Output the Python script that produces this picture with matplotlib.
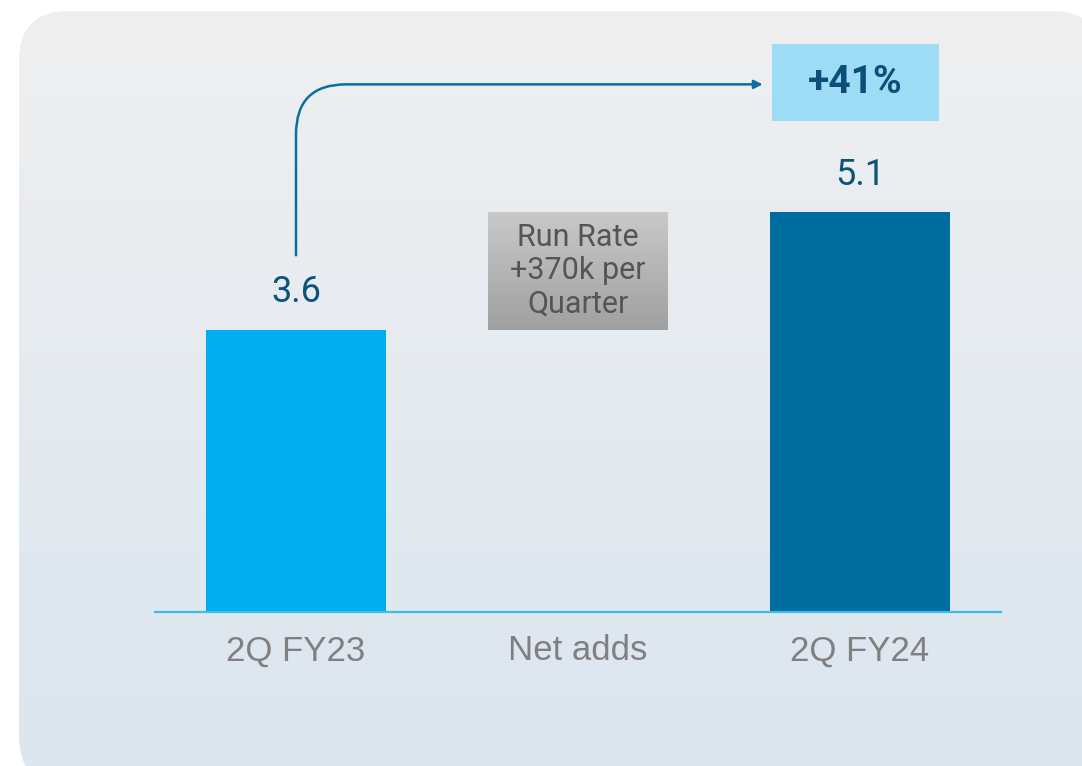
import numpy as np
import matplotlib
matplotlib.use("Agg")
import matplotlib.pyplot as plt
from matplotlib.patches import FancyBboxPatch, Rectangle
from matplotlib.colors import LinearSegmentedColormap

# ---------------- data ----------------
categories = ["2Q FY23", "Net adds", "2Q FY24"]
start_value = 3.6
end_value = 5.1
value_labels = ["3.6", "5.1"]
growth_label = "+41%"
run_rate_text = "Run Rate\n+370k per\nQuarter"

# ---------------- figure ----------------
W, H = 1082, 766
fig = plt.figure(figsize=(W / 100, H / 100), dpi=100)
fig.patch.set_facecolor("white")

# background rounded panel with vertical gradient
ax_bg = fig.add_axes([0, 0, 1, 1])
ax_bg.set_xlim(0, W)
ax_bg.set_ylim(H, 0)
ax_bg.axis("off")
r = 50
x0, y0, x1, y1 = 19, 11, 1102, 786
panel = FancyBboxPatch((x0 + r, y0 + r), (x1 - x0) - 2 * r, (y1 - y0) - 2 * r,
                       boxstyle=f"round,pad={r}", facecolor="none", edgecolor="none")
ax_bg.add_patch(panel)
bg_cmap = LinearSegmentedColormap.from_list("bg", ["#EFEFEF", "#DBE6EF"])
grad = np.linspace(0, 1, 256).reshape(-1, 1)
im = ax_bg.imshow(grad, cmap=bg_cmap, extent=(x0, x1, y1, y0), aspect="auto",
                  origin="upper", zorder=0)
im.set_clip_path(panel)

# main axes
px_per_unit = 78.4
base_px = 612
top_px = 30
ax = fig.add_axes([155 / W, 1 - base_px / H, 846 / W, (base_px - top_px) / H])
ax.patch.set_alpha(0)
for s in ax.spines.values():
    s.set_visible(False)
ax.set_yticks([])
ax.set_xticks(range(len(categories)))
ax.set_xticklabels(categories, fontsize=25, color="#808080", family="Liberation Sans")
ax.tick_params(axis="x", length=0, pad=16)

bar_w = 0.635
xs = [0, 2]
vals = [start_value, end_value]
ax.bar(xs, vals, width=bar_w, color=["#00AEEF", "#006DA0"], zorder=2)

# floating gradient bar for net adds
nb = ax.bar(1, end_value - start_value, bottom=start_value, width=bar_w,
            color="none", edgecolor="none", zorder=2)[0]
gray_cmap = LinearSegmentedColormap.from_list("gr", ["#C9C9C9", "#A0A0A0"])
gim = ax.imshow(grad, cmap=gray_cmap,
                extent=(1 - bar_w / 2, 1 + bar_w / 2, start_value, end_value),
                aspect="auto", origin="upper", zorder=2)
gim.set_clip_path(nb)
ax.set_xlim(-0.5, 2.5)
ax.set_ylim(0, (base_px - top_px) / px_per_unit)
ax.text(1, (start_value + end_value) / 2, run_rate_text, ha="center", va="center",
        fontsize=22, color="#555555", family="Roboto", linespacing=1.18, zorder=3)

# baseline
ax.axhline(0, color="#3DBDEB", lw=1.6, zorder=3, clip_on=False)

# value labels
for x, v, lab in zip(xs, vals, value_labels):
    ax.annotate(lab, (x, v), xytext=(0, 27), textcoords="offset points",
                ha="center", va="center", fontsize=26, color="#0B5478",
                family="Roboto")

# growth box
box_x0, box_x1 = 1.688, 2.28
box_y0, box_y1 = 6.26, 7.24
ax.add_patch(Rectangle((box_x0, box_y0), box_x1 - box_x0, box_y1 - box_y0,
                       facecolor="#9EDCF5", edgecolor="none", zorder=2))
ax.text((box_x0 + box_x1) / 2, (box_y0 + box_y1) / 2, growth_label,
        ha="center", va="center", fontsize=28, fontweight="bold",
        color="#0B4F78", family="Roboto", zorder=3)

# arrow from first bar to growth box
ax.annotate("", xy=(1.655, 6.73), xytext=(0, 4.55),
            arrowprops=dict(arrowstyle="-|>,head_length=0.5,head_width=0.25",
                            connectionstyle="angle,angleA=90,angleB=0,rad=50",
                            color="#0A6FA0", lw=1.8, shrinkA=0, shrinkB=0),
            zorder=3)

fig.savefig("out.png", dpi=100)
